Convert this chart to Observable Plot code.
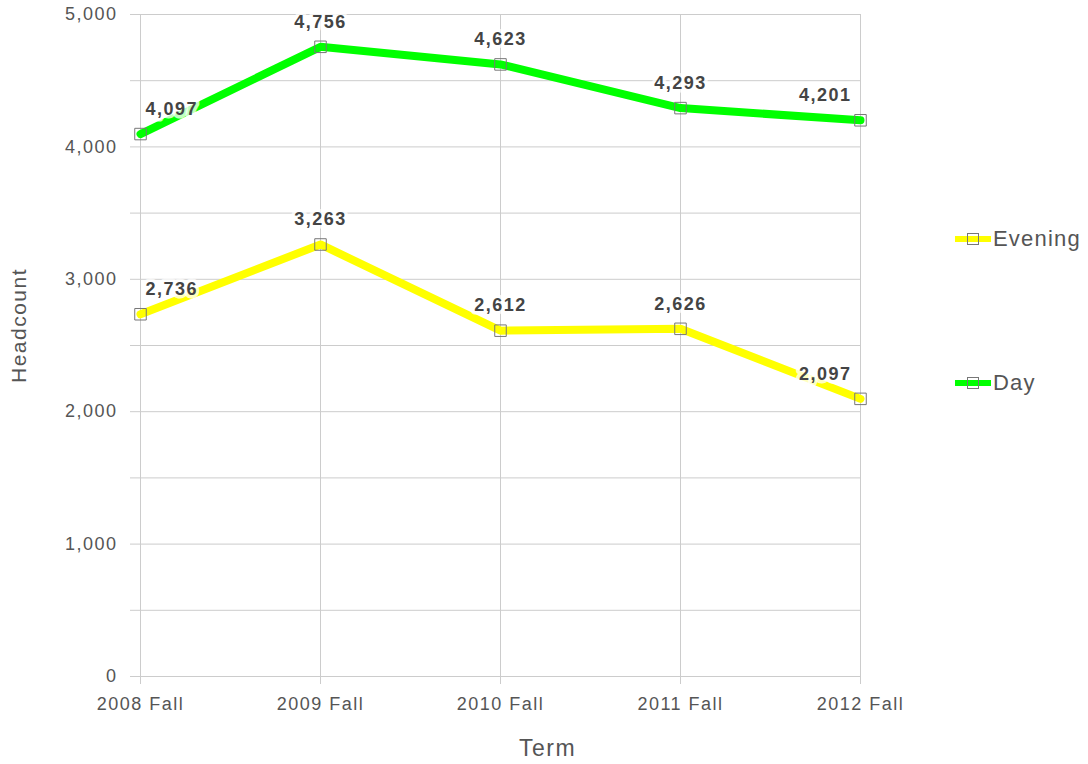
<!DOCTYPE html>
<html>
<head>
<meta charset="utf-8">
<script src="https://cdn.jsdelivr.net/npm/d3@7"></script>
<script src="https://cdn.jsdelivr.net/npm/@observablehq/plot@0.6"></script>
<style>
  body { margin: 0; background: #fff; }
  #wrap { position: relative; width: 1088px; height: 764px; font-family: "Liberation Sans", Arial, sans-serif; }
  .legend { position: absolute; left: 955px; display: flex; align-items: center; }
  .sw { position: relative; width: 36px; height: 6px; }
  .sw .sq { position: absolute; left: 12px; top: -3px; width: 10px; height: 10px; border: 1px solid #777; box-sizing: content-box; }
  .lt { margin-left: 2px; font-size: 22px; color: #555; letter-spacing: 1.2px; }
</style>
</head>
<body>
<div id="wrap"></div>
<script>
const terms = ["2008 Fall", "2009 Fall", "2010 Fall", "2011 Fall", "2012 Fall"];
const dayValues = [4097, 4756, 4623, 4293, 4201];
const eveningValues = [2736, 3263, 2612, 2626, 2097];
const seriesNames = ["Evening", "Day"];
const seriesColors = ["#ffff00", "#00ff00"];
const yTicksMajor = [0, 1000, 2000, 3000, 4000, 5000];
const yTicksMinor = [0, 500, 1000, 1500, 2000, 2500, 3000, 3500, 4000, 4500, 5000];

const rows = [];
terms.forEach((t, i) => rows.push({term: t, value: eveningValues[i], series: "Evening", i}));
terms.forEach((t, i) => rows.push({term: t, value: dayValues[i], series: "Day", i}));

const fmt = d3.format(",");
const last = terms.length - 1;
const labelOpts = {
  x: "term", y: "value", text: d => fmt(d.value), dy: -25,
  fontSize: 18, fontWeight: "bold", fill: "#444",
  stroke: "white", strokeWidth: 7, strokeOpacity: 0.75
};

const chart = Plot.plot({
  width: 1088, height: 764,
  marginLeft: 140, marginRight: 228, marginTop: 14, marginBottom: 88,
  style: {fontFamily: "'Liberation Sans', Arial, sans-serif", letterSpacing: "1.5px", background: "white"},
  x: {type: "point", domain: terms, padding: 0, label: null},
  y: {domain: [0, 5000], label: null},
  color: {domain: seriesNames, range: seriesColors},
  marks: [
    Plot.gridY(yTicksMinor, {stroke: "#ccc", strokeOpacity: 1}),
    Plot.gridX(terms, {stroke: "#ccc", strokeOpacity: 1}),
    Plot.axisY(yTicksMinor, {tickSize: 10, tickFormat: () => "", stroke: "#ccc", label: null}),
    Plot.axisY(yTicksMajor, {tickSize: 0, tickPadding: 23, tickFormat: fmt, fill: "#555", fontSize: 18, label: null}),
    Plot.axisX(terms, {tickSize: 8, tickPadding: 13, stroke: "#ccc", fill: "#555", fontSize: 18, label: null}),
    Plot.line(rows, {x: "term", y: "value", z: "series", stroke: "series", strokeWidth: 8, strokeLinejoin: "round"}),
    Plot.dot(rows, {x: "term", y: "value", symbol: "square", r: 6.5, stroke: "#777", strokeWidth: 1, fill: "none"}),
    Plot.text(rows.filter(d => d.i === 0), {...labelOpts, textAnchor: "start", dx: 5}),
    Plot.text(rows.filter(d => d.i > 0 && d.i < last), {...labelOpts}),
    Plot.text(rows.filter(d => d.i === last), {...labelOpts, textAnchor: "end", dx: -9}),
    Plot.text(["Headcount"], {frameAnchor: "left", textAnchor: "middle", lineAnchor: "middle", dx: -121, dy: -20, rotate: -90, fontSize: 21, fill: "#555"}),
    Plot.text(["Term"], {frameAnchor: "bottom", textAnchor: "middle", lineAnchor: "middle", dx: 47, dy: 72, fontSize: 23, fill: "#555"})
  ]
});

const wrap = document.getElementById("wrap");
wrap.appendChild(chart);

const legendTops = [239, 383];
seriesNames.forEach((name, k) => {
  const item = document.createElement("div");
  item.className = "legend";
  item.style.top = (legendTops[k] - 14) + "px";
  item.style.height = "28px";
  const sw = document.createElement("div");
  sw.className = "sw";
  sw.style.background = seriesColors[k];
  const sq = document.createElement("div");
  sq.className = "sq";
  sw.appendChild(sq);
  const lt = document.createElement("span");
  lt.className = "lt";
  lt.textContent = name;
  item.appendChild(sw);
  item.appendChild(lt);
  wrap.appendChild(item);
});
</script>
</body>
</html>
